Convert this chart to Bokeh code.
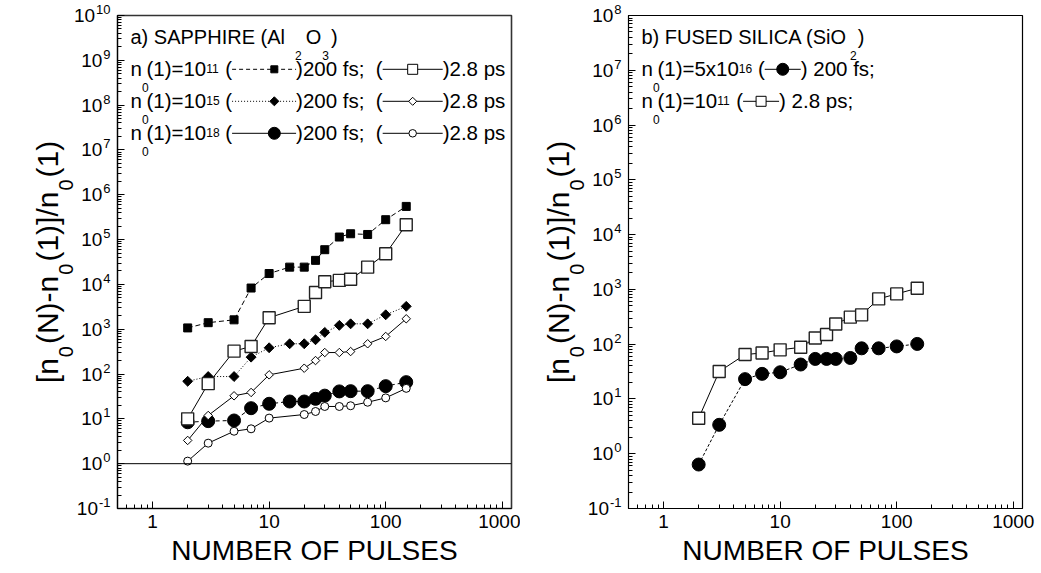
import math
from bokeh.plotting import figure
from bokeh.models import Label, Range1d, FixedTicker, CustomJSTickFormatter, Span
from bokeh.layouts import row, column
from bokeh.embed import file_html
from bokeh.resources import INLINE

# ---------------- data ----------------
pulses_sapphire_200fs = [2, 3, 5, 7, 10, 15, 20, 25, 30, 40, 50, 70, 100, 150]
pulses_sapphire_28ps = [2, 3, 5, 7, 10, 20, 25, 30, 40, 50, 70, 100, 150]
sapphire_1e11_200fs = [1070, 1400, 1620, 8300, 17500, 24300, 24300, 34400, 59500, 114000, 135000, 130000, 278000, 550000]
sapphire_1e11_28ps = [10, 61, 324, 413, 1810, 3240, 6600, 11500, 12300, 13000, 24300, 48400, 215000]
sapphire_1e15_200fs = [69, 88, 88, 238, 386, 474, 474, 582, 850, 1220, 1320, 1320, 2100, 3240]
sapphire_1e15_28ps = [3.3, 11.9, 32.7, 38.8, 96, 135, 200, 302, 302, 318, 474, 690, 1710]
sapphire_1e18_200fs = [8.4, 8.9, 9.2, 17.3, 21.7, 24.4, 24.4, 28, 33, 41, 41.5, 41.5, 53.7, 66]
sapphire_1e18_28ps = [1.14, 2.87, 5.3, 6.0, 10.4, 12.5, 14.6, 18.9, 18.9, 19.6, 23.5, 29.4, 48]

pulses_silica = [2, 3, 5, 7, 10, 15, 20, 25, 30, 40, 50, 70, 100, 150]
silica_5e16_200fs = [0.635, 3.37, 23, 28.7, 30.7, 42.5, 53.8, 53.8, 53.8, 56, 84, 84, 91, 101]
silica_1e11_28ps = [4.45, 31.6, 64.6, 69, 78.7, 87.7, 130, 150, 234, 311, 343, 671, 828, 1050]

x_major_ticks = [1, 10, 100, 1000]
x_tick_labels = ["1", "10", "100", "1000"]
left_exponents = list(range(-1, 11))
right_exponents = list(range(-1, 9))
x_title = "NUMBER OF PULSES"

# ---------------- styling / layout ----------------
FONT = "Liberation Sans"
XR = (0.5, 1200)
H = 573
FT, FW, FH = 15, 394, 493
XBOT = H - FT - FH
MID = 0.345   # distance from alphabetic baseline to the text middle, in em

AW = {' ': 278, '(': 333, ')': 333, '-': 333, '.': 278, '/': 278, ';': 278, '=': 584, '[': 278, ']': 278,
      'A': 667, 'B': 667, 'C': 722, 'D': 722, 'E': 667, 'F': 611, 'H': 722, 'I': 278, 'L': 556, 'M': 833,
      'N': 722, 'O': 778, 'P': 667, 'R': 722, 'S': 667, 'U': 722,
      'a': 556, 'b': 556, 'f': 278, 'i': 222, 'l': 222, 'n': 556, 'o': 556, 'p': 556, 's': 500, 'x': 500}
for _d in "0123456789":
    AW[_d] = 556


def tw(s, size):
    return sum(AW.get(c, 556) for c in s) * size / 1000.0


class Panel:
    """maps absolute page pixels to the data space of a log-log panel"""
    def __init__(self, fig, fl_abs, yr):
        self.fig = fig
        self.fl = fl_abs
        self.lx = (math.log10(XR[0]), math.log10(XR[1]))
        self.ly = (math.log10(yr[0]), math.log10(yr[1]))

    def d(self, ax, ay):
        fx = (ax - self.fl) / FW
        fy = (ay - FT) / FH
        return (10 ** (self.lx[0] + fx * (self.lx[1] - self.lx[0])),
                10 ** (self.ly[1] - fy * (self.ly[1] - self.ly[0])))

    def ypx(self, k):
        return FT + (self.ly[1] - k) / (self.ly[1] - self.ly[0]) * FH


class Strip:
    """a plain text canvas (figure without axes) placed at absolute page pixels"""
    def __init__(self, ox, oy, w, h):
        self.ox, self.oy, self.w, self.h = ox, oy, w, h
        f = figure(width=w, height=h, x_range=Range1d(0, w), y_range=Range1d(0, h), title=None,
                   min_border=0, min_border_left=0, min_border_right=0, min_border_top=0, min_border_bottom=0,
                   x_axis_location=None, y_axis_location=None,
                   output_backend="svg", toolbar_location=None,
                   background_fill_color="white", border_fill_color="white")
        f.outline_line_color = None
        f.grid.visible = False
        self.fig = f

    def d(self, ax, ay):
        return ax - self.ox, (self.oy + self.h) - ay


def label(P, ax, ay, text, size, align="left", angle=0.0):
    """(ax, ay) is the alphabetic baseline start in page pixels; drawn with a middle baseline"""
    if angle:
        ax = ax - MID * size
    else:
        ay = ay - MID * size
    x, y = P.d(ax, ay)
    P.fig.add_layout(Label(x=x, y=y, text=text, text_font=FONT, text_font_size=f"{size}px",
                           text_color="black", text_align=align, text_baseline="middle", angle=angle))


def make_fig(width, bl, br, yr, outline_w, outline_c):
    p = figure(width=width, height=H, x_axis_type="log", y_axis_type="log",
               x_range=Range1d(*XR), y_range=Range1d(*yr), title=None,
               min_border_left=bl, min_border_right=br, min_border_top=FT, min_border_bottom=XBOT,
               output_backend="svg", toolbar_location=None,
               background_fill_color="white", border_fill_color="white")
    p.grid.visible = False
    p.outline_line_color = outline_c
    p.outline_line_width = outline_w
    xminor = [m * 10 ** k for k in range(-1, 4) for m in range(2, 10) if XR[0] <= m * 10 ** k <= XR[1]]
    p.xaxis.ticker = FixedTicker(ticks=x_major_ticks, minor_ticks=xminor)
    p.xaxis.formatter = CustomJSTickFormatter(
        args=dict(labs=x_tick_labels, vals=x_major_ticks),
        code="for (let i=0;i<vals.length;i++){ if (Math.abs(Math.log10(tick)-Math.log10(vals[i]))<1e-6) return labs[i]; } return '';")
    lo, hi = round(math.log10(yr[0])), round(math.log10(yr[1]))
    ymaj = [10.0 ** k for k in range(lo, hi + 1)]
    yminor = [m * 10.0 ** k for k in range(lo, hi) for m in range(2, 10)]
    p.yaxis.ticker = FixedTicker(ticks=ymaj, minor_ticks=yminor)
    p.yaxis.formatter = CustomJSTickFormatter(code="return '';")
    p.yaxis.major_label_standoff = 0
    for ax in (p.xaxis[0], p.yaxis[0]):
        ax.major_tick_in = 7
        ax.major_tick_out = 0
        ax.minor_tick_in = 4
        ax.minor_tick_out = 0
        ax.axis_line_color = "black"
        ax.major_tick_line_color = "black"
        ax.minor_tick_line_color = "black"
    p.xaxis.major_label_text_font = FONT
    p.xaxis.major_label_text_font_size = "19px"
    p.xaxis.major_label_text_color = "black"
    p.xaxis.major_label_standoff = 6
    p.xaxis.axis_label = x_title
    p.xaxis.axis_label_text_font = FONT
    p.xaxis.axis_label_text_font_size = "28px"
    p.xaxis.axis_label_text_font_style = "normal"
    p.xaxis.axis_label_text_color = "black"
    p.xaxis.axis_label_standoff = 4
    return p


def series(p, xs, ys, dash, marker, size, fill, angle=0.0, lw=1.0, mlw=1.0, lc="black"):
    p.line(xs, ys, line_color="black", line_width=lw, line_dash=dash)
    p.scatter(xs, ys, marker=marker, size=size, fill_color=fill, line_color=lc,
              line_width=mlw, angle=angle)


def y_tick_labels(S, P, exps):
    for k in exps:
        ty = P.ypx(k)
        e = str(k)
        ew = tw(e, 13)
        x, y = S.d(P.fl - 7, ty - 6)
        S.fig.add_layout(Label(x=x, y=y, text=e, text_font=FONT, text_font_size="13px", text_color="black",
                               text_align="right", text_baseline="middle"))
        x, y = S.d(P.fl - 8 - ew, ty)
        S.fig.add_layout(Label(x=x, y=y, text="10", text_font=FONT, text_font_size="19px", text_color="black",
                               text_align="right", text_baseline="middle"))


def y_title(S, P):
    F, FS = 30, 20
    base_x = P.fl - 60
    pieces = [("[n", 0), ("0", 1), ("(N)-n", 0), ("0", 1), ("(1)]/n", 0), ("0", 1), ("(1)", 0)]
    adv = []
    for s, sub in pieces:
        adv.append(tw(s, FS) + 3 if sub else tw(s, F))
    total = sum(adv)
    y = FT + FH / 2 + total / 2
    for (s, sub), a in zip(pieces, adv):
        if sub:
            label(S, base_x + 15, y - 1, s, FS, angle=math.pi / 2)
        else:
            label(S, base_x, y, s, F, angle=math.pi / 2)
        y -= a


def legend_row(P, x0, yb, segs):
    x = x0
    for seg in segs:
        kind = seg[0]
        if kind == "t":
            _, s, size, dy, advm = seg
            label(P, x, yb + dy, s, size)
            x += tw(s, size) * advm
        elif kind == "g":
            x += seg[1]
        elif kind == "s":
            _, L, frac, dash, marker, msize, fill, angle = seg
            ym = yb - 6.2
            xa, ya = P.d(x, ym)
            xb, _ = P.d(x + L, ym)
            xm, _ = P.d(x + L * frac, ym)
            P.fig.line([xa, xb], [ya, ya], line_color="black", line_width=1, line_dash=dash)
            P.fig.scatter([xm], [ya], marker=marker, size=msize, fill_color=fill, line_color="black",
                          line_width=1, angle=angle)
            x += L


F, FSUB = 20.5, 12
SP = tw(" ", F)
D45 = math.pi / 4


def n0(exp_text, prefix="(1)=10"):
    return [("t", "n", F, 0, 1), ("t", "0", FSUB, 16.5, 0), ("g", 4.5),
            ("t", prefix, F, 0, 1), ("t", exp_text, FSUB, -3, 1), ("g", SP), ("t", "(", F, 0, 1)]


# ---------------- left panel: sapphire ----------------
FL1 = 117
YS1_W = FL1 - 2
p1 = make_fig(520 - YS1_W, 2, 520 - FL1 - FW, (0.1, 1e10), 1.6, "#333333")
P1 = Panel(p1, FL1, (0.1, 1e10))
p1.add_layout(Span(location=1, dimension="width", line_color="black", line_width=1))

series(p1, pulses_sapphire_200fs, sapphire_1e18_200fs, "4 3", "circle", 13, "black")
series(p1, pulses_sapphire_200fs, sapphire_1e15_200fs, "1 2", "square", 7, "black", angle=D45)
series(p1, pulses_sapphire_200fs, sapphire_1e11_200fs, "5 3", "square", 8, "black")
series(p1, pulses_sapphire_28ps, sapphire_1e18_28ps, "solid", "circle", 8, "white")
series(p1, pulses_sapphire_28ps, sapphire_1e15_28ps, "solid", "square", 6, "white", angle=D45)
series(p1, pulses_sapphire_28ps, sapphire_1e11_28ps, "solid", "square", 12, "white", mlw=1.4, lc="#222222")

legend_row(P1, 130, 43, [("t", "a) SAPPHIRE (Al", 20, 0, 1), ("g", 10), ("t", "2", FSUB, 16, 1), ("g", 4),
                         ("t", "O", 20, 0, 1), ("g", 1), ("t", "3", FSUB, 16, 1), ("g", 2), ("t", ")", 20, 0, 1)])
legend_row(P1, 130, 75, n0("11") + [("s", 64, 0.66, "4 3", "square", 7, "black", 0.0),
                                    ("t", ")200 fs;", F, 0, 1), ("g", 2 * SP), ("t", "(", F, 0, 1),
                                    ("s", 60, 0.5, "solid", "square", 10, "white", 0.0),
                                    ("t", ")2.8 ps", F, 0, 1)])
legend_row(P1, 130, 107, n0("15") + [("s", 64, 0.66, "1 2", "square", 6.4, "black", D45),
                                     ("t", ")200 fs;", F, 0, 1), ("g", 2 * SP), ("t", "(", F, 0, 1),
                                     ("s", 60, 0.5, "solid", "square", 5.7, "white", D45),
                                     ("t", ")2.8 ps", F, 0, 1)])
legend_row(P1, 130, 139, n0("18") + [("s", 64, 0.66, "solid", "circle", 12, "black", 0.0),
                                     ("t", ")200 fs;", F, 0, 1), ("g", 2 * SP), ("t", "(", F, 0, 1),
                                     ("s", 60, 0.5, "solid", "circle", 7.5, "white", 0.0),
                                     ("t", ")2.8 ps", F, 0, 1)])

ys1 = Strip(0, 0, YS1_W, H)
y_tick_labels(ys1, P1, left_exponents)
y_title(ys1, P1)

# ---------------- right panel: fused silica ----------------
FL2 = 628
YS2_W = FL2 - 2 - 520
p2 = make_fig(521 - YS2_W, 2, 1041 - FL2 - FW, (0.1, 1e8), 1.2, "black")
P2 = Panel(p2, FL2, (0.1, 1e8))

series(p2, pulses_silica, silica_5e16_200fs, "3 2", "circle", 13, "black")
series(p2, pulses_silica, silica_1e11_28ps, "solid", "square", 12, "white", mlw=1.4, lc="#222222")

legend_row(P2, 641, 43, [("t", "b) FUSED SILICA (SiO", 20, 0, 1), ("g", 3), ("t", "2", FSUB, 16, 1),
                         ("g", 1), ("t", ")", 20, 0, 1)])
legend_row(P2, 641, 75, n0("16", "(1)=5x10") + [("s", 36, 0.5, "solid", "circle", 12, "black", 0.0),
                                                ("t", ")", F, 0, 1), ("g", SP), ("t", "200 fs;", F, 0, 1)])
legend_row(P2, 641, 107, n0("11") + [("s", 36, 0.5, "solid", "square", 10, "white", 0.0),
                                     ("t", ")", F, 0, 1), ("g", SP), ("t", "2.8 ps;", F, 0, 1)])

ys2 = Strip(520, 0, YS2_W, H)
y_tick_labels(ys2, P2, right_exponents)
y_title(ys2, P2)

# each figure sits in its own column so the row does not re-align the frames
layout = row(column(ys1.fig), column(p1), column(ys2.fig), column(p2))
open("out.html", "w").write(file_html(layout, INLINE, "chart"))
